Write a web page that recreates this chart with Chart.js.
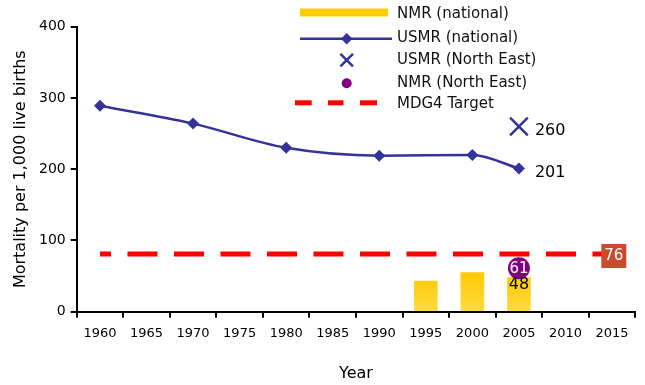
<!DOCTYPE html>
<html>
<head>
<meta charset="utf-8">
<script src="https://cdn.jsdelivr.net/npm/chart.js@4.4.1/dist/chart.umd.min.js"></script>
<style>
  html, body { margin: 0; padding: 0; background: #fff; }
</style>
</head>
<body>
<canvas id="chartMortality" width="645" height="385"></canvas>
<script>
// categories and series (null = no value for that year)
var years = ['1960', '1965', '1970', '1975', '1980', '1985', '1990', '1995', '2000', '2005', '2010', '2015'];
var nmrNational   = [null, null, null, null, null, null, null, 43, 55, 48, null, null];
var usmrNational  = [289, null, 264, null, 230, null, 219, null, 220, 201, null, null];
var usmrNorthEast = [null, null, null, null, null, null, null, null, null, 260, null, null];
var nmrNorthEast  = [null, null, null, null, null, null, null, null, null, 61, null, null];
var mdgTarget     = [81, null, null, null, null, null, null, null, null, null, null, 81];
var mdgTargetValue = 76;
var yTicks = [0, 100, 200, 300, 400];

var FONT = 'DejaVu Sans';
Chart.defaults.font.family = FONT;
Chart.defaults.color = '#000';

var ctx = document.getElementById('chartMortality').getContext('2d');

function yellowFill(context) {
  var chart = context.chart;
  if (!chart.chartArea) return '#FFCC00';
  var y0 = chart.scales.y.getPixelForValue(0);
  var g = chart.ctx.createLinearGradient(0, y0 - 42, 0, y0);
  g.addColorStop(0, '#FFC800');
  g.addColorStop(1, '#FFDA3E');
  return g;
}

function lastIndex(arr) {
  for (var i = arr.length - 1; i >= 0; i--) if (arr[i] !== null) return i;
  return -1;
}

// value labels drawn next to the library's own elements
var valueLabels = {
  id: 'valueLabels',
  afterDatasetsDraw: function (chart) {
    var c = chart.ctx;
    c.save();
    c.textBaseline = 'middle';

    // 48 on the last NMR (national) bar
    var i = lastIndex(nmrNational);
    var el = chart.getDatasetMeta(0).data[i];
    c.font = '16px ' + FONT;
    c.fillStyle = '#000';
    c.textAlign = 'center';
    c.fillText(String(nmrNational[i]), el.x, el.y + 7.5);

    // 201 after the last USMR (national) point
    i = lastIndex(usmrNational);
    el = chart.getDatasetMeta(2).data[i];
    c.textAlign = 'left';
    c.fillText(String(usmrNational[i]), el.x + 16, el.y + 4.5);

    // 260 after the USMR (North East) cross
    i = lastIndex(usmrNorthEast);
    el = chart.getDatasetMeta(3).data[i];
    c.fillText(String(usmrNorthEast[i]), el.x + 16, el.y + 4.3);

    // 61 inside the NMR (North East) circle
    i = lastIndex(nmrNorthEast);
    el = chart.getDatasetMeta(4).data[i];
    c.font = '15px ' + FONT;
    c.fillStyle = '#fff';
    c.textAlign = 'center';
    c.fillText(String(nmrNorthEast[i]), el.x, el.y + 0.5);

    // 76 box at the end of the target line
    i = lastIndex(mdgTarget);
    el = chart.getDatasetMeta(1).data[i];
    c.fillStyle = '#C84B2D';
    c.fillRect(el.x - 10.7, el.y - 10, 25, 24);
    c.fillStyle = '#fff';
    c.fillText(String(mdgTargetValue), el.x + 1.8, el.y + 2.5);
    c.restore();
  }
};

// legend drawn over the top of the plot
var legendRows = ['NMR (national)', 'USMR (national)', 'USMR (North East)', 'NMR (North East)', 'MDG4 Target'];
var overlayLegend = {
  id: 'overlayLegend',
  afterDraw: function (chart) {
    var c = chart.ctx;
    var rowY = [14.5, 38, 60.5, 83, 104.5];
    var symX = 346.7, textX = 397;
    c.save();
    // NMR (national)
    c.fillStyle = '#FFCC00';
    c.fillRect(300, 8.5, 88, 8);
    // USMR (national)
    c.strokeStyle = '#333399';
    c.lineWidth = 2.5;
    c.beginPath(); c.moveTo(300, 38.7); c.lineTo(392, 38.7); c.stroke();
    c.fillStyle = '#333399';
    c.beginPath();
    c.moveTo(symX, 33); c.lineTo(symX + 5.7, 38.7); c.lineTo(symX, 44.4); c.lineTo(symX - 5.7, 38.7);
    c.closePath(); c.fill();
    // USMR (North East)
    c.beginPath();
    c.moveTo(symX - 6.3, 53.8); c.lineTo(symX + 6.3, 66.4);
    c.moveTo(symX + 6.3, 53.8); c.lineTo(symX - 6.3, 66.4);
    c.stroke();
    // NMR (North East)
    c.fillStyle = '#800080';
    c.beginPath(); c.arc(symX, 83.3, 5, 0, Math.PI * 2); c.fill();
    // MDG4 Target
    c.fillStyle = '#FF0000';
    c.fillRect(295, 100.3, 16.7, 5);
    c.fillRect(328, 100.3, 15.5, 5);
    c.fillRect(360, 100.3, 17, 5);

    c.fillStyle = '#111';
    c.font = '15px ' + FONT;
    c.textAlign = 'left';
    c.textBaseline = 'middle';
    for (var k = 0; k < legendRows.length; k++) c.fillText(legendRows[k], textX, rowY[k]);
    c.restore();
  }
};

var chartMortality = new Chart(ctx, {
  data: {
    labels: years,
    datasets: [{
      type: 'bar',
      label: 'NMR (national)',
      data: nmrNational,
      backgroundColor: yellowFill,
      borderWidth: 0,
      barThickness: 23,
      order: 5
    }, {
      type: 'line',
      label: 'MDG4 Target',
      data: mdgTarget,
      borderColor: '#FF0000',
      borderWidth: 5,
      borderDash: [30, 16.5],
      borderDashOffset: 19,
      borderCapStyle: 'butt',
      spanGaps: true,
      tension: 0,
      pointRadius: 0,
      order: 4
    }, {
      type: 'line',
      label: 'USMR (national)',
      data: usmrNational,
      borderColor: '#333399',
      borderWidth: 2.5,
      spanGaps: true,
      cubicInterpolationMode: 'monotone',
      pointStyle: 'rectRot',
      pointRadius: 6,
      pointBackgroundColor: '#333399',
      pointBorderColor: '#333399',
      pointBorderWidth: 0,
      order: 3
    }, {
      type: 'line',
      label: 'USMR (North East)',
      data: usmrNorthEast,
      showLine: false,
      pointStyle: 'crossRot',
      pointRadius: 12.5,
      pointBorderColor: '#333399',
      pointBorderWidth: 2.5,
      order: 2
    }, {
      type: 'line',
      label: 'NMR (North East)',
      data: nmrNorthEast,
      showLine: false,
      pointStyle: 'circle',
      pointRadius: 11,
      pointBackgroundColor: '#800080',
      pointBorderWidth: 0,
      order: 1
    }]
  },
  options: {
    responsive: false,
    animation: false,
    devicePixelRatio: 1,
    layout: { autoPadding: false, padding: { top: 26.7, right: 9.7, left: 0, bottom: 0 } },
    plugins: {
      legend: { display: false },
      tooltip: { enabled: false }
    },
    scales: {
      x: {
        type: 'category',
        offset: true,
        grid: { offset: true, drawOnChartArea: false, drawTicks: true, tickLength: 6, color: '#000', lineWidth: 2 },
        border: { display: true, color: '#000', width: 2 },
        ticks: { color: '#000', font: { family: FONT, size: 13 }, padding: 8, maxRotation: 0, autoSkip: false },
        title: { display: true, text: 'Year', color: '#000', font: { family: FONT, size: 16 }, padding: { top: 0, bottom: 2 } },
        afterFit: function (s) { s.height = 73.3; s.paddingLeft = 0; s.paddingRight = 0; }
      },
      y: {
        min: yTicks[0],
        max: yTicks[yTicks.length - 1],
        ticks: { stepSize: yTicks[1] - yTicks[0], color: '#000', font: { family: FONT, size: 14 }, padding: 5 },
        grid: { drawOnChartArea: false, drawTicks: true, tickLength: 6, color: '#000', lineWidth: 2 },
        border: { display: true, color: '#000', width: 2 },
        title: { display: true, text: 'Mortality per 1,000 live births', color: '#000', font: { family: FONT, size: 16 }, padding: { top: 11, bottom: 0 } },
        afterFit: function (s) { s.width = 76.7; }
      }
    }
  },
  plugins: [valueLabels, overlayLegend]
});
</script>
</body>
</html>
